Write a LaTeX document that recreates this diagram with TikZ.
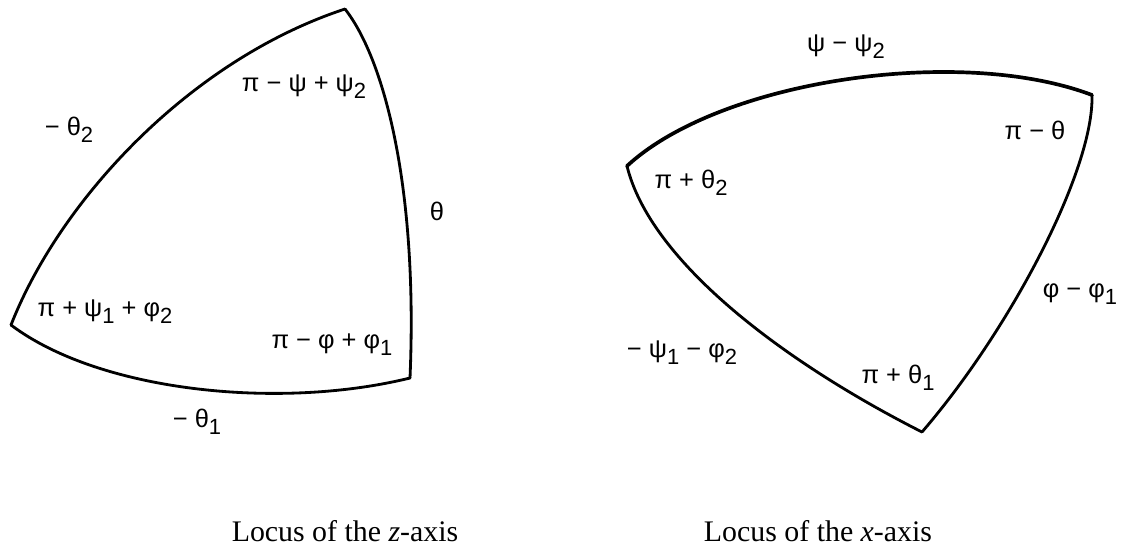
\documentclass[tikz,border=0pt]{standalone}
\usepackage{fontspec}
\setmainfont{Liberation Serif}
\newfontfamily\lblfont{Liberation Sans}
\usepackage{tikz}
\usetikzlibrary{positioning, calc}
\newcommand{\lo}[1]{\raisebox{-0.5ex}{\fontsize{12.5}{13}\selectfont #1}}

\begin{document}
\begin{tikzpicture}[
  x=0.02cm, y=-0.02cm,
  every node/.style={inner sep=0pt},
  lbl/.style={font=\lblfont\fontsize{14.5}{16}\selectfont, anchor=center},
  caption/.style={font=\fontsize{17}{19}\selectfont, anchor=base},
  rim/.style={line width=1.6pt, line join=round, line cap=round},
  toprim/.style={line width=2.1pt, line cap=round},
]
\useasboundingbox (0,0) rectangle (1123,549);

% ── Locus of the z-axis ──
\coordinate (zt) at (345,9);
\coordinate (zr) at (410,378);
\coordinate (zl) at (11,325);
\draw[rim] (zl) .. controls (60,200) and (190,60) .. (zt);
\draw[rim] (zt) .. controls (385,60) and (418,190) .. (zr);
\draw[rim] (zl) .. controls (100,392) and (280,410) .. (zr);

\node[lbl] (zpsi)  at (304,87)  {π − ψ + ψ\lo{2}};
\node[lbl] (zth2)  at (69,130)  {− θ\lo{2}};
\node[lbl] (zth)   at (437,211) {θ};
\node[lbl] (zpsi1) at (105,312) {π + ψ\lo{1} + φ\lo{2}};
\node[lbl] (zphi)  at (332,345) {π − φ + φ\lo{1}};
\node[lbl] (zth1)  at (197,422) {− θ\lo{1}};
\node[caption] (zcap) at (345,541) {Locus of the \textit{z}-axis};

% ── Locus of the x-axis ──
\coordinate (xl) at (627,166);
\coordinate (xr) at (1092,95);
\coordinate (xb) at (922,432);
\draw[toprim] (xl) .. controls (720,80) and (960,45) .. (xr);
\draw[rim] (xr) .. controls (1094,170) and (1010,330) .. (xb);
\draw[rim] (xl) .. controls (650,260) and (780,360) .. (xb);

\node[lbl] (xpsi)  at (846,47)  {ψ − ψ\lo{2}};
\node[lbl] (xpth)  at (1035,130) {π − θ};
\node[lbl] (xth2)  at (691,183) {π + θ\lo{2}};
\node[lbl] (xphi)  at (1080,294) {φ − φ\lo{1}};
\node[lbl] (xpsi1) at (682,353) {− ψ\lo{1} − φ\lo{2}};
\node[lbl] (xth1)  at (898,378) {π + θ\lo{1}};
\node[caption] (xcap) at (818,541) {Locus of the \textit{x}-axis};

\end{tikzpicture}
\end{document}
